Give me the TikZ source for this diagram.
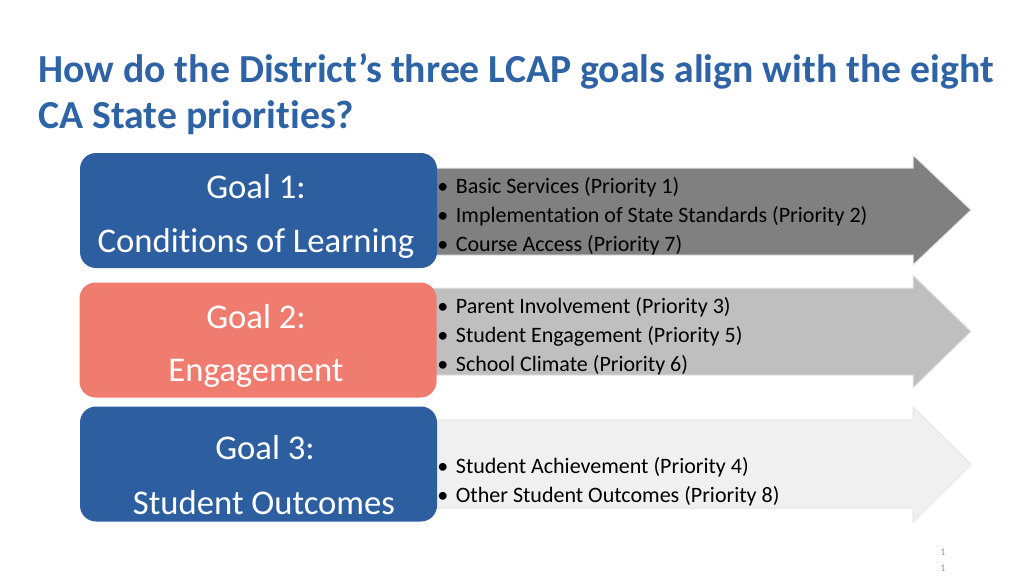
\documentclass[tikz,border=0pt]{standalone}
\usepackage{fontspec}
\setmainfont[Ligatures=NoCommon]{Carlito}
\usepackage{tikz}
\definecolor{goalblue}{RGB}{45,95,160}
\definecolor{titleblue}{RGB}{46,99,165}
\definecolor{goalred}{RGB}{240,123,111}
\newcommand{\itm}[1]{\makebox[14pt][l]{\textbullet}#1}
\tikzset{
  goalbox/.style={fill=#1, rounded corners=12pt, minimum width=267.75pt, minimum height=86.25pt, inner sep=0pt},
  goaltext/.style={text=white, font=\fontsize{26}{30}\selectfont},
  itemlist/.style={anchor=west, align=left, inner sep=0pt, font=\fontsize{16.5}{21.75}\selectfont}
}
\begin{document}
\begin{tikzpicture}[x=0.75pt,y=-0.75pt]
        \useasboundingbox (0,0) rectangle (1024,576);
        % title
        \node[anchor=base west, inner sep=0pt, text=titleblue, font=\bfseries\fontsize{29.8}{34}\selectfont] (title) at (38,82) {How do the District’s three LCAP goals align with the eight};
        \node[anchor=base west, inner sep=0pt, text=titleblue, font=\bfseries\fontsize{29.8}{34}\selectfont] (titlecont) at (38,128) {CA State priorities?};
        % arrows
        \foreach \bt/\bb/\ht/\hb/\col in {168/255/155/265/black!50, 288/375/275/388/black!25, 420/508/407/522/black!6} {
            \draw[fill=\col, draw=black!10, line width=0.75pt] (430,\bt) -- (913,\bt) -- (913,\ht) -- (971,{(\ht+\hb)/2}) -- (913,\hb) -- (913,\bb) -- (430,\bb) -- cycle;
        }
        % goal boxes
        \node[goalbox=goalblue] (goalA) at (258.5,210.5) {};
        \node[goalbox=goalred] (goalB) at (258,340) {};
        \node[goalbox=goalblue] (goalC) at (258.5,464) {};
        \node[goaltext] (goalAnum) at (256,187) {Goal 1:};
        \node[goaltext] (goalAname) at (256,243) {Conditions of Learning};
        \node[goaltext] (goalBnum) at (256,317) {Goal 2:};
        \node[goaltext] (goalBname) at (256,373) {Engagement};
        \node[goaltext] (goalCnum) at (265,448) {Goal 3:};
        \node[goaltext] (goalCname) at (264,503) {Student Outcomes};
        % priorities
        \node[itemlist] (prioA) at (437,216) {\itm{Basic Services (Priority 1)}\\ \itm{Implementation of State Standards (Priority 2)}\\ \itm{Course Access (Priority 7)}};
        \node[itemlist] (prioB) at (437,336) {\itm{Parent Involvement (Priority 3)}\\ \itm{Student Engagement (Priority 5)}\\ \itm{School Climate (Priority 6)}};
        \node[itemlist] (prioC) at (437,481.5) {\itm{Student Achievement (Priority 4)}\\ \itm{Other Student Outcomes (Priority 8)}};
        % page number
        \node[text=black!40, font=\fontsize{7.5}{9}\selectfont] (pageA) at (943,552) {1};
        \node[text=black!40, font=\fontsize{7.5}{9}\selectfont] (pageB) at (943,568) {1};
        \end{tikzpicture}
\end{document}
